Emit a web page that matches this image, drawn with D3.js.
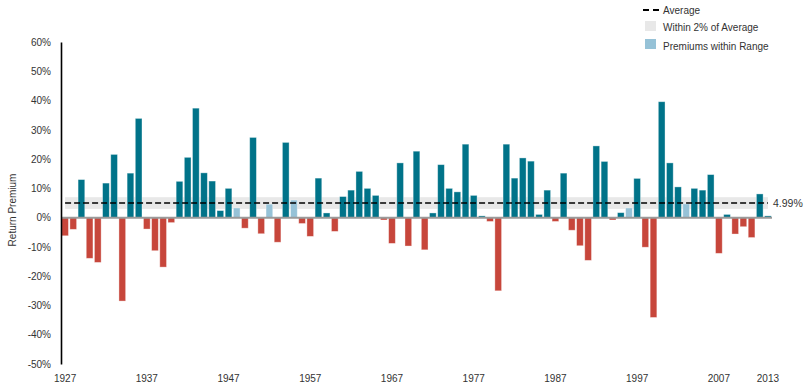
<!DOCTYPE html>
<html>
<head>
<meta charset="utf-8">
<script src="https://cdn.jsdelivr.net/npm/d3@7"></script>
<style>
  html, body { margin: 0; padding: 0; background: #fff; }
  text { font-family: "Liberation Sans", Arial, Helvetica, sans-serif; }
</style>
</head>
<body>
<svg id="chart" width="805" height="384"></svg>
<script>
const years = d3.range(1927, 2014);
const premiums = [
  -6.2, -4.0, 13.0, -13.9, -15.3, 11.8, 21.6, -28.5, 15.2, 33.9,
  -3.9, -11.3, -16.9, -1.7, 12.4, 20.6, 37.4, 15.3, 12.5, 2.4,
  10.0, 3.3, -3.6, 27.4, -5.5, 4.6, -8.4, 25.7, 6.0, -2.0,
  -6.4, 13.5, 1.6, -4.7, 7.2, 9.4, 15.8, 10.0, 7.6, -0.8,
  -8.8, 18.7, -9.7, 22.7, -11.0, 1.6, 18.1, 10.0, 8.8, 25.1,
  7.6, 0.6, -1.3, -25.0, 25.1, 13.5, 20.4, 19.3, 1.1, 9.4,
  -1.3, 15.2, -4.3, -9.6, -14.6, 24.5, 19.2, -0.8, 1.7, 3.3,
  13.4, -10.1, -34.1, 39.6, 18.7, 10.5, 4.7, 10.0, 9.4, 14.7,
  -12.2, 1.1, -5.6, -3.1, -6.8, 8.1, 0.6
];
const average = 4.99;
const rangeWidth = 2;
const yTicks = [-50, -40, -30, -20, -10, 0, 10, 20, 30, 40, 50, 60];
const xTickYears = [1927, 1937, 1947, 1957, 1967, 1977, 1987, 1997, 2007, 2013];
const legendItems = ["Average", "Within 2% of Average", "Premiums within Range"];

const colors = { pos: "#007389", neg: "#c7463b", inRange: "#96c2d7", band: "#e8e8e8", zero: "#9a9a9a" };

const svg = d3.select("#chart");
const x = d3.scaleBand().domain(years).range([61, 772]).paddingInner(0.18).paddingOuter(0.09);
const y = d3.scaleLinear().domain([-50, 60]).range([364, 42]);

const lo = average - rangeWidth, hi = average + rangeWidth;
const xFirst = x(years[0]) + x.bandwidth() / 2;
const xLast = x(years[years.length - 1]) + x.bandwidth() / 2;

// band within 2%
svg.append("rect")
  .attr("x", xFirst).attr("width", xLast - xFirst)
  .attr("y", y(hi)).attr("height", y(lo) - y(hi))
  .attr("fill", colors.band);

// bars
const data = years.map((yr, i) => ({ year: yr, v: premiums[i] }));
svg.append("g").selectAll("rect").data(data).join("rect")
  .attr("x", d => x(d.year))
  .attr("width", x.bandwidth())
  .attr("y", d => d.v >= 0 ? y(d.v) : y(0))
  .attr("height", d => Math.abs(y(d.v) - y(0)))
  .attr("fill", d => d.v < 0 ? colors.neg : (d.v >= lo && d.v <= hi ? colors.inRange : colors.pos))
  .attr("stroke", "#fff").attr("stroke-opacity", 0.45).attr("stroke-width", 0.8);

// zero line
svg.append("line")
  .attr("x1", 61).attr("x2", 772)
  .attr("y1", y(0)).attr("y2", y(0))
  .attr("stroke", colors.zero).attr("stroke-width", 2);

// average dashed line
svg.append("line")
  .attr("x1", xFirst).attr("x2", xLast)
  .attr("y1", y(average)).attr("y2", y(average))
  .attr("stroke", "#000").attr("stroke-width", 1.6).attr("stroke-dasharray", "6,3");

svg.append("text")
  .attr("x", 773).attr("y", y(average)).attr("dy", "0.35em")
  .attr("font-size", 10.5).attr("fill", "#333")
  .text(average.toFixed(2) + "%");

// y axis
const yAxis = svg.append("g").attr("transform", "translate(61,0)")
  .call(d3.axisLeft(y).tickValues(yTicks).tickSize(0).tickPadding(10).tickFormat(d => d + "%"));
yAxis.select(".domain").attr("stroke", "#000").attr("stroke-width", 1.6);
yAxis.selectAll("text").attr("font-size", 10).attr("fill", "#333")
  .style("font-family", '"Liberation Sans", Arial, sans-serif');

// x labels
svg.append("g").selectAll("text").data(xTickYears).join("text")
  .attr("x", d => x(d) + x.bandwidth() / 2)
  .attr("y", 378).attr("dy", "0.35em")
  .attr("text-anchor", "middle").attr("font-size", 10).attr("fill", "#333")
  .text(d => d);

// y title
svg.append("text")
  .attr("transform", "translate(12,210) rotate(-90)")
  .attr("text-anchor", "middle").attr("dy", "0.35em")
  .attr("font-size", 10).attr("fill", "#333")
  .text("Return Premium");

// legend
const lg = svg.append("g");
lg.append("line").attr("x1", 643).attr("x2", 659).attr("y1", 10).attr("y2", 10)
  .attr("stroke", "#000").attr("stroke-width", 2).attr("stroke-dasharray", "6,4");
lg.append("rect").attr("x", 645).attr("y", 21).attr("width", 11).attr("height", 10).attr("fill", colors.band);
lg.append("rect").attr("x", 645).attr("y", 39).attr("width", 11).attr("height", 10).attr("fill", colors.inRange);
const legendY = [10, 27, 46];
lg.selectAll("text").data(legendItems).join("text")
  .attr("x", 663).attr("y", (d, i) => legendY[i]).attr("dy", "0.35em")
  .attr("font-size", 10).attr("fill", "#333")
  .text(d => d);
</script>
</body>
</html>
